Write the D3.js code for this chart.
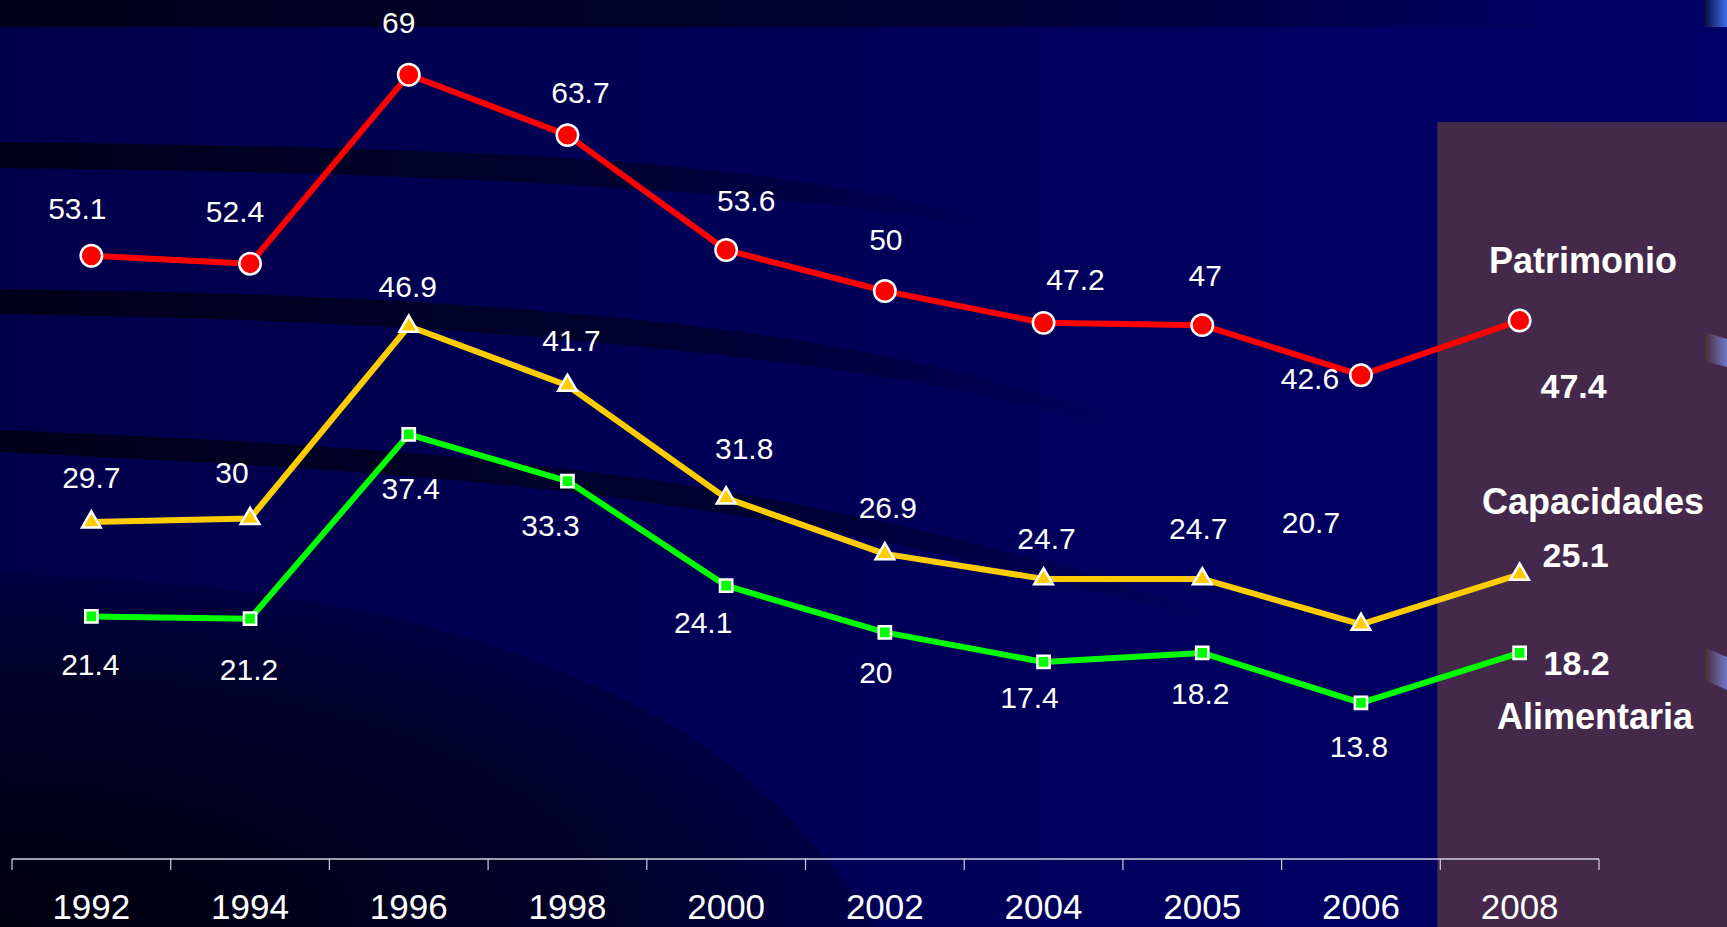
<!DOCTYPE html>
<html>
<head>
<meta charset="utf-8">
<script src="https://cdn.jsdelivr.net/npm/d3@7"></script>
<style>
  html, body { margin: 0; padding: 0; background: #00005a; overflow: hidden; }
  svg { display: block; }
</style>
</head>
<body>
<svg id="chart" width="1727" height="927"></svg>
<script>
// ---- data ----
const years = ["1992", "1994", "1996", "1998", "2000", "2002", "2004", "2005", "2006", "2008"];
const patrimonio = [53.1, 52.4, 69, 63.7, 53.6, 50, 47.2, 47, 42.6, 47.4];
const capacidades = [29.7, 30, 46.9, 41.7, 31.8, 26.9, 24.7, 24.7, 20.7, 25.1];
const alimentaria = [21.4, 21.2, 37.4, 33.3, 24.1, 20, 17.4, 18.2, 13.8, 18.2];
const seriesNames = ["Patrimonio", "Capacidades", "Alimentaria"];

// ---- layout (label offsets relative to markers, px) ----
const labelOffsets = {
  Patrimonio:  [[-14,-48],[-15,-52],[-10,-53],[13,-43],[20,-50],[1,-52],[32,-44],[3,-50],[-51,3],[54,65]],
  Capacidades: [[0,-45],[-18,-46],[-1,-40],[4,-45],[18,-50],[3,-47],[3,-41],[-4,-51],[-50,-102],[56,-20]],
  Alimentaria: [[-1,48],[-1,50],[2,54],[-17,44],[-23,36],[-9,40],[-14,35],[-2,40],[-2,43],[57,10]]
};
const nameLayout = { Patrimonio: [1583, 260], Capacidades: [1593, 501], Alimentaria: [1595, 716] };

const W = 1727, H = 927;
const svg = d3.select("#chart");
const defs = svg.append("defs");

// background gradient
const bg = defs.append("linearGradient").attr("id", "bg").attr("x1", 0).attr("x2", 1).attr("y1", 0).attr("y2", 0);
bg.append("stop").attr("offset", 0).attr("stop-color", "#00004a");
bg.append("stop").attr("offset", 1).attr("stop-color", "#000068");
svg.append("rect").attr("width", W).attr("height", H).attr("fill", "url(#bg)");

// stripe gradient (dark fading to the right)
const sg = defs.append("linearGradient").attr("id", "stripe").attr("x1", 0).attr("x2", 1).attr("y1", 0).attr("y2", 0);
sg.append("stop").attr("offset", 0).attr("stop-color", "#000018").attr("stop-opacity", 0.95);
sg.append("stop").attr("offset", 0.6).attr("stop-color", "#000018").attr("stop-opacity", 0.6);
sg.append("stop").attr("offset", 1).attr("stop-color", "#000018").attr("stop-opacity", 0);

const rg = defs.append("radialGradient").attr("id", "corner").attr("cx", 0).attr("cy", 1).attr("r", 1);
rg.append("stop").attr("offset", 0).attr("stop-color", "#000010").attr("stop-opacity", 1);
rg.append("stop").attr("offset", 0.7).attr("stop-color", "#000020").attr("stop-opacity", 0.85);
rg.append("stop").attr("offset", 1).attr("stop-color", "#000030").attr("stop-opacity", 0.4);

const curve = d3.line().curve(d3.curveBasis);
function band(top, bottom, fill) {
  svg.append("path").attr("d", curve(top) + "L" + curve(bottom.slice().reverse()).slice(1) + "Z").attr("fill", fill);
}
// top dark band
svg.append("rect").attr("x", 0).attr("y", 0).attr("width", 1600).attr("height", 27).attr("fill", "url(#stripe)");
// curved stripes
band([[0,142],[300,146],[600,157],[850,185],[1000,222]], [[0,168],[300,172],[600,185],[850,205],[1000,230]], "url(#stripe)");
band([[0,289],[350,295],[700,322],[950,365],[1120,420]], [[0,314],[350,321],[700,350],[950,385],[1120,428]], "url(#stripe)");
band([[0,430],[450,450],[800,500],[1050,560],[1230,620]], [[0,452],[450,474],[800,522],[1050,578],[1230,626]], "url(#stripe)");
// dark bottom-left region
svg.append("path")
  .attr("d", curve([[0,573],[300,590],[560,660],[760,770],[880,927]]) + "L0,927Z")
  .attr("fill", "url(#corner)");

// scales
const x = d3.scaleBand().domain(years).range([12, 1599]).padding(0);
const y = d3.scaleLinear().domain([0, 75.57]).range([860, 0]);

// right panel
svg.append("rect").attr("x", x("2008") - 3).attr("y", 122).attr("width", W - x("2008") + 3).attr("height", H - 122)
  .attr("fill", "#45294a");

// right-edge decorations
const dg = defs.append("linearGradient").attr("id", "deco").attr("x1", 0).attr("x2", 1);
dg.append("stop").attr("offset", 0).attr("stop-color", "#4a2830");
dg.append("stop").attr("offset", 1).attr("stop-color", "#7078c8");
const dg2 = defs.append("linearGradient").attr("id", "deco2").attr("x1", 0).attr("x2", 1);
dg2.append("stop").attr("offset", 0).attr("stop-color", "#0a0a40");
dg2.append("stop").attr("offset", 1).attr("stop-color", "#4070e8");
svg.append("rect").attr("x", 1704).attr("y", 0).attr("width", 23).attr("height", 27).attr("fill", "url(#deco2)");
svg.append("path").attr("d", "M1704,332L1727,339L1727,367L1704,361Z").attr("fill", "url(#deco)");
svg.append("path").attr("d", "M1704,647L1727,657L1727,690L1704,680Z").attr("fill", "url(#deco)");

// axis
const axisY = 859;
const gAxis = svg.append("g").attr("transform", `translate(0,${axisY})`);
gAxis.append("line").attr("x1", x.range()[0]).attr("x2", x.range()[1]).attr("y1", 0).attr("y2", 0)
  .attr("stroke", "#d0d0e0").attr("stroke-width", 1.5);
const bounds = years.map(d => x(d)).concat([x.range()[1]]);
gAxis.selectAll("line.tick").data(bounds).enter().append("line")
  .attr("class", "tick").attr("x1", d => d).attr("x2", d => d).attr("y1", 0).attr("y2", 11)
  .attr("stroke", "#d0d0e0").attr("stroke-width", 1.2);
gAxis.selectAll("text").data(years).enter().append("text")
  .attr("x", d => x(d) + x.bandwidth() / 2).attr("y", 60)
  .attr("text-anchor", "middle").attr("fill", "#ffffff")
  .attr("font-family", "'Liberation Sans', Arial, sans-serif").attr("font-size", 35)
  .text(d => d);

// series
const series = [
  { name: seriesNames[0], values: patrimonio, color: "#ff0000", symbol: d3.symbolCircle, size: 360 },
  { name: seriesNames[1], values: capacidades, color: "#ffcc00", symbol: d3.symbolTriangle, size: 150 },
  { name: seriesNames[2], values: alimentaria, color: "#00ff00", symbol: d3.symbolSquare, size: 150 }
];
const cx = d => x(d) + x.bandwidth() / 2;
const line = d3.line().x(d => cx(d.year)).y(d => y(d.v));

series.forEach(s => {
  const pts = years.map((yr, i) => ({ year: yr, v: s.values[i], i }));
  const g = svg.append("g");
  g.append("path").datum(pts).attr("d", line).attr("fill", "none")
    .attr("stroke", s.color).attr("stroke-width", 6).attr("stroke-linejoin", "round");
  g.selectAll("path.m").data(pts).enter().append("path").attr("class", "m")
    .attr("d", d3.symbol().type(s.symbol).size(s.size))
    .attr("transform", d => `translate(${cx(d.year)},${y(d.v)})`)
    .attr("fill", s.color).attr("stroke", "#ffffff").attr("stroke-width", 2.5);
  g.selectAll("text.v").data(pts).enter().append("text").attr("class", "v")
    .attr("x", d => cx(d.year) + labelOffsets[s.name][d.i][0])
    .attr("y", d => y(d.v) + labelOffsets[s.name][d.i][1])
    .attr("dy", "0.36em")
    .attr("text-anchor", "middle").attr("fill", "#ffffff")
    .attr("font-family", "'Liberation Sans', Arial, sans-serif")
    .attr("font-size", d => d.i === years.length - 1 ? 34 : 30)
    .attr("font-weight", d => d.i === years.length - 1 ? "bold" : "normal")
    .text(d => d.v);
  svg.append("text").attr("x", nameLayout[s.name][0]).attr("y", nameLayout[s.name][1]).attr("dy", "0.36em")
    .attr("text-anchor", "middle").attr("fill", "#ffffff")
    .attr("font-family", "'Liberation Sans', Arial, sans-serif")
    .attr("font-size", 36).attr("font-weight", "bold")
    .text(s.name);
});
</script>
</body>
</html>
